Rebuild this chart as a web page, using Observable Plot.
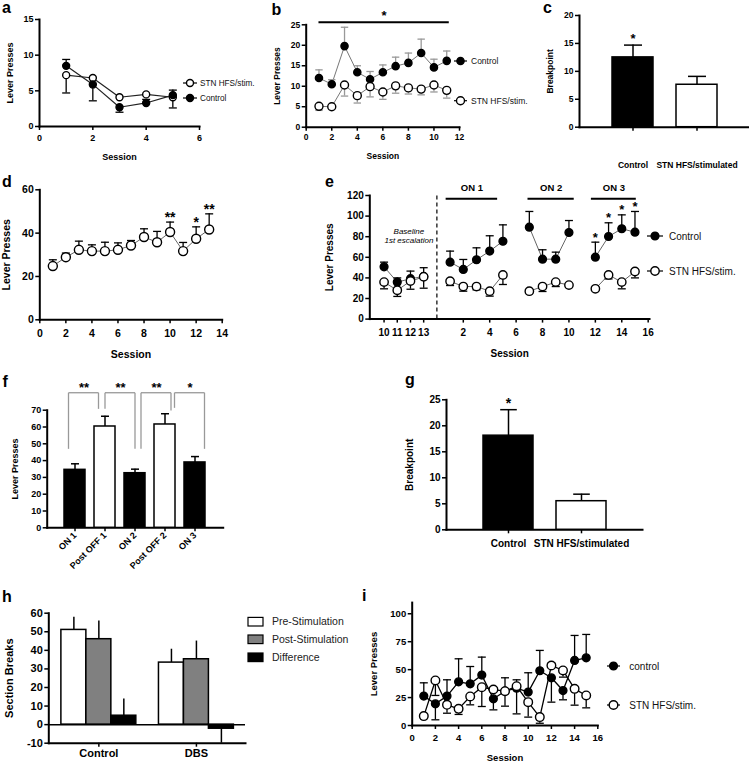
<!DOCTYPE html>
<html><head><meta charset="utf-8">
<script src="https://cdn.jsdelivr.net/npm/d3@7"></script>
<script src="https://cdn.jsdelivr.net/npm/@observablehq/plot@0.6"></script>
<style>
html,body{margin:0;padding:0;background:#fff;}
#root{position:relative;width:749px;height:763px;overflow:hidden;background:#fff;}
#root svg{position:absolute;max-width:none;}
</style></head><body><div id="root"></div>
<script>
// ================= DATA =================
// panel a
const aSeries = ["STN HFS/stim.", "Control"];
const aSessions = [1, 2, 3, 4, 5];
const aStim = [7.2, 6.8, 4.1, 4.5, 4.1];
const aStimErr = [4.7, null, null, null, 2.6];
const aCtrl = [8.5, 5.9, 2.7, 3.3, 4.4];
const aCtrlErr = [9.4, 3.6, 2.0, 3.8, 5.1];
const aXTicks = [0, 2, 4, 6];
const aYTicks = [0, 5, 10, 15];

// panel b
const bSeries = ["Control", "STN HFS/stim."];
const bSessions = [1, 2, 3, 4, 5, 6, 7, 8, 9, 10, 11];
const bCtrl = [12.0, 10.5, 19.8, 13.4, 11.7, 13.4, 14.9, 15.7, 18.1, 14.6, 16.2];
const bCtrlErr = [14.0, 11.6, 24.4, 15.0, 13.6, 15.2, 17.1, 18.1, 21.5, 16.6, 18.6];
const bStim = [5.1, 5.0, 10.3, 7.7, 9.9, 8.6, 10.1, 9.6, 9.3, 10.3, 9.0];
const bStimErr = [4.1, null, 7.6, 5.9, 7.4, 6.8, 8.3, 8.1, 7.9, 8.6, 7.1];
const bSig = [{x1: 1, x2: 11.2, y: 25.6, label: "*"}];
const bXTicks = [0, 2, 4, 6, 8, 10, 12];
const bYTicks = [0, 5, 10, 15, 20, 25];

// panel c
const cGroups = ["Control", "STN HFS/stimulated"];
const cValues = [12.5, 7.6];
const cErr = [14.7, 9.1];
const cStars = ["*", ""];
const cYTicks = [0, 5, 10, 15, 20];

// panel d
const dSessions = [1, 2, 3, 4, 5, 6, 7, 8, 9, 10, 11, 12, 13];
const dValues = [24.8, 28.9, 32.3, 31.7, 31.7, 32.3, 34.3, 38.2, 35.8, 40.5, 31.7, 37.4, 41.7];
const dErr = [27.7, 30.8, 36.3, 34.6, 35.8, 35.5, 36.6, 42.0, 40.8, 45.1, 35.7, 42.9, 48.9];
const dStars = [{x: 10, label: "**"}, {x: 12, label: "*"}, {x: 13, label: "**"}];
const dXTicks = [0, 2, 4, 6, 8, 10, 12, 14];
const dYTicks = [0, 20, 40, 60];

// panel e
const eSeries = ["Control", "STN HFS/stim."];
const ePhases = ["Baseline","Baseline","Baseline","Baseline","ON 1","ON 1","ON 1","ON 1","ON 1","ON 2","ON 2","ON 2","ON 2","ON 3","ON 3","ON 3","ON 3"];
const eSessions = [10, 11, 12, 13, 1, 2, 3, 4, 5, 7, 8, 9, 10, 12, 13, 14, 15];
const eCtrl = [50.8, 35.9, 39.2, 41.4, 55.3, 48.2, 57.6, 66.0, 75.6, 89.2, 58.2, 58.2, 84.1, 60.1, 80.2, 87.7, 84.4];
const eCtrlErr = [55.3, 40.0, 46.6, 49.9, 66.0, 57.9, 69.2, 80.9, 91.5, 104.5, 67.3, 65.0, 95.7, 74.7, 93.5, 101.2, 104.5];
const eStim = [35.9, 28.0, 36.9, 41.0, 36.8, 31.6, 31.6, 27.1, 42.9, 27.1, 31.6, 35.9, 33.0, 29.4, 42.9, 35.9, 46.2];
const eStimErr = [29.4, 22.0, 29.0, 30.0, 32.6, 27.1, 28.4, 22.3, 33.6, null, 26.8, 31.6, null, null, 39.0, 29.4, 40.0];
const eStarPhase = "ON 3";
const ePhaseBars = [{label: "ON 1", x1: 0.7, x2: 4.6}, {label: "ON 2", x1: 6.9, x2: 10.4}, {label: "ON 3", x1: 11.7, x2: 15.1}];
const ePhaseBarY = 116.9, ePhaseLabelY = 127.6;
const eNote = [{text: "Baseline", y: 85.4}, {text: "1st escalation", y: 76.4}];
const eNoteX = -2.12;
const eBaseTicks = [10, 11, 12, 13];
const eTicks = [2, 4, 6, 8, 10, 12, 14, 16];
const eYTicks = [0, 20, 40, 60, 80, 100, 120];
const E_BASE_SHIFT = 14; // baseline sessions are drawn left of the dashed divider

// panel f
const fConditions = ["ON 1", "Post OFF 1", "ON 2", "Post OFF 2", "ON 3"];
const fValues = [34.5, 60.3, 32.5, 61.5, 38.9];
const fErr = [38.1, 66.4, 34.9, 67.9, 42.4];
const fBrackets = [
  {from: "ON 1", to: "Post OFF 1", fromEnd: 47, toEnd: 70.8, top: 80.4, label: "**"},
  {from: "Post OFF 1", to: "ON 2", fromEnd: 70.8, toEnd: 47, top: 80.4, label: "**"},
  {from: "ON 2", to: "Post OFF 2", fromEnd: 47, toEnd: 69.8, top: 80.4, label: "**"},
  {from: "Post OFF 2", to: "ON 3", fromEnd: 71.4, toEnd: 47, top: 80.4, label: "*"}
];
const fYTicks = [0, 10, 20, 30, 40, 50, 60, 70];

// panel g
const gGroups = ["Control", "STN HFS/stimulated"];
const gValues = [18.1, 5.5];
const gErr = [23.1, 6.85];
const gStars = ["*", ""];
const gYTicks = [0, 5, 10, 15, 20, 25];

// panel h
const hGroups = ["Control", "DBS"];
const hSeries = ["Pre-Stimulation", "Post-Stimulation", "Difference"];
const hPre = [51.0, 33.4];
const hPost = [46.0, 35.2];
const hDiff = [4.8, -2.2];
const hPreErr = [57.8, 40.6];
const hPostErr = [55.8, 45.0];
const hDiffErr = [13.8, -10.0];
const hYTicks = [-10, 0, 10, 20, 30, 40, 50, 60];

// panel i
const iSeries = ["control", "STN HFS/stim."];
const iSessions = [1, 2, 3, 4, 5, 6, 7, 8, 9, 10, 11, 12, 13, 14, 15];
const iCtrl = [26.3, 19.4, 26.3, 39.1, 37.3, 45.1, 23.9, 30.7, 33.4, 29.9, 49.0, 42.7, 31.3, 58.2, 60.6];
const iCtrlErr = [38.2, 5.1, 40.9, 59.7, 52.8, 61.2, 14.0, 42.7, 40.9, 47.2, 67.2, 20.9, 23.0, 80.6, 81.5];
const iStim = [8.4, 40.3, 18.5, 14.9, 26.0, 34.3, 32.2, 30.7, 35.2, 20.9, 7.5, 53.7, 49.3, 32.8, 26.9];
const iStimErr = [null, 26.9, 11.0, 9.9, 18.5, 17.0, null, 17.3, 10.4, 7.5, 2.0, 55.8, 43.3, 18.2, 15.8];
const iXTicks = [0, 2, 4, 6, 8, 10, 12, 14, 16];
const iYTicks = [0, 25, 50, 75, 100];

// ================= HELPERS =================
const FONT = "'Liberation Sans', Arial, Helvetica, sans-serif";
const root = document.getElementById("root");
const intFmt = d => String(d);
function put(svg, left, top) { svg.style.position = "absolute"; svg.style.left = left + "px"; svg.style.top = top + "px"; root.appendChild(svg); }
const st = fs => ({fontFamily: FONT, fontSize: fs + "px", fontWeight: "bold", color: "#000", background: "none", overflow: "visible"});
const capSymbol = {draw(ctx, size) { const r = Math.sqrt(size / Math.PI); ctx.moveTo(-r, 0); ctx.lineTo(r, 0); }};
const rows = (xs, ys, es, extra = {}) => xs.map((x, i) => ({x, y: ys[i], e: es[i], ...Object.fromEntries(Object.entries(extra).map(([k, v]) => [k, v[i]]))}));
function seriesMarks(data, o) {
  const withErr = data.filter(d => d.e != null);
  return [
    Plot.line(data, {x: "x", y: "y", z: o.z, stroke: o.line, strokeWidth: o.lineWidth ?? 1}),
    Plot.ruleX(withErr, {x: "x", y1: "y", y2: "e", stroke: o.err, strokeWidth: 1.3}),
    Plot.dot(withErr, {x: "x", y: "e", symbol: capSymbol, r: o.cap, stroke: o.err, strokeWidth: 1.3}),
    Plot.dot(data, {x: "x", y: "y", r: o.r, fill: o.filled ? "#000" : "#fff", stroke: "#000", strokeWidth: 1.4})
  ];
}
const ax = o => Plot.axisX({tickSize: 4, tickPadding: 3, strokeWidth: 1.5, labelAnchor: "center", labelArrow: false, ...o});
const ay = o => Plot.axisY({tickSize: 4, tickPadding: 2, strokeWidth: 1.5, labelAnchor: "center", labelArrow: false, tickFormat: intFmt, ...o});
const axisLines = () => [Plot.frame({anchor: "left", strokeWidth: 2}), Plot.frame({anchor: "bottom", strokeWidth: 2})];

// ================= PANEL A =================
put(Plot.plot({
  width: 205, height: 160, marginLeft: 39, marginRight: 6, marginTop: 19, marginBottom: 34, style: st(9),
  x: {domain: [0, 6]}, y: {domain: [0, 15]},
  marks: [
    ...axisLines(),
    ax({ticks: aXTicks, tickFormat: intFmt, label: "Session", labelOffset: 33, tickPadding: 4}),
    ay({ticks: aYTicks, label: "Lever Presses", labelOffset: 33}),
    ...seriesMarks(rows(aSessions, aStim, aStimErr), {line: "#222", err: "#000", cap: 4, r: 3.5, filled: false, lineWidth: 1.2}),
    ...seriesMarks(rows(aSessions, aCtrl, aCtrlErr), {line: "#222", err: "#000", cap: 4, r: 3.5, filled: true, lineWidth: 1.2})
  ]
}), 0, 0);

// ================= PANEL B =================
put(Plot.plot({
  width: 200, height: 160, marginLeft: 40.7, marginRight: 6, marginTop: 24.3, marginBottom: 33.3, style: st(8.5),
  x: {domain: [0, 12]}, y: {domain: [0, 25]},
  marks: [
    ...axisLines(),
    ax({ticks: bXTicks, tickFormat: intFmt, label: "Session", labelOffset: 32}),
    ay({ticks: bYTicks, label: "Lever Presses", labelOffset: 32.7}),
    Plot.ruleY(bSig, {y: "y", x1: "x1", x2: "x2", strokeWidth: 2}),
    Plot.text(bSig, {x: d => (d.x1 + d.x2) / 2, y: "y", text: "label", fontSize: 13, dy: -7}),
    ...seriesMarks(rows(bSessions, bCtrl, bCtrlErr), {line: "#777", err: "#999", cap: 3.7, r: 3.6, filled: true}),
    ...seriesMarks(rows(bSessions, bStim, bStimErr), {line: "#777", err: "#999", cap: 3.7, r: 4, filled: false})
  ]
}), 265, 0);

// ================= PANEL C =================
const cRows = cGroups.map((g, i) => ({g, v: cValues[i], e: cErr[i], s: cStars[i]}));
put(Plot.plot({
  width: 209, height: 175, marginLeft: 39, marginRight: 0, marginTop: 15, marginBottom: 48.3, style: st(8.5),
  x: {type: "band", domain: cGroups, paddingInner: 0.36, paddingOuter: 0.5}, y: {domain: [0, 20]},
  color: {type: "identity"},
  marks: [
    ...axisLines(),
    ax({label: null, tickPadding: 31}),
    ay({ticks: cYTicks, label: "Breakpoint", labelOffset: 33}),
    Plot.ruleX(cRows, {x: "g", y1: "v", y2: "e", strokeWidth: 1.5}),
    Plot.dot(cRows, {x: "g", y: "e", symbol: capSymbol, r: 9, stroke: "#000", strokeWidth: 1.5}),
    Plot.barY(cRows, {x: "g", y: "v", fill: d => d.g === cGroups[0] ? "#000" : "#fff", stroke: "#000", strokeWidth: 1.5}),
    Plot.text(cRows, {x: "g", y: "e", text: "s", fontSize: 13, dy: -6.4})
  ]
}), 540, 0);

// ================= PANEL D =================
const dRows = rows(dSessions, dValues, dErr);
const dStarRows = dStars.map(s => ({...s, e: dErr[dSessions.indexOf(s.x)]}));
put(Plot.plot({
  width: 230, height: 200, marginLeft: 39.3, marginRight: 8.3, marginTop: 29.3, marginBottom: 40.7, style: st(10.5),
  x: {domain: [0, 14]}, y: {domain: [0, 60]},
  marks: [
    ...axisLines(),
    ax({ticks: dXTicks, tickFormat: intFmt, label: "Session", labelOffset: 37.7, tickPadding: 6}),
    ay({ticks: dYTicks, label: "Lever Presses", labelOffset: 37.3}),
    ...seriesMarks(dRows, {line: "#666", err: "#000", cap: 4, r: 4.5, filled: false}),
    Plot.text(dStarRows, {x: "x", y: "e", text: "label", fontSize: 14, dy: -4.7})
  ]
}), 0, 160);

// ================= PANEL E =================
const ePos = (s, p) => p === "Baseline" ? s - E_BASE_SHIFT : s;
const eX = eSessions.map((s, i) => ePos(s, ePhases[i]));
const eCtrlRows = rows(eX, eCtrl, eCtrlErr, {phase: ePhases});
const eStimRows = rows(eX, eStim, eStimErr, {phase: ePhases});
const eStarRows = eCtrlRows.filter(d => d.phase === eStarPhase);
put(Plot.plot({
  width: 335, height: 200, marginLeft: 49.3, marginRight: 6, marginTop: 35, marginBottom: 41.4, style: st(10),
  x: {domain: [-5.08, 16.1]}, y: {domain: [0, 120]},
  marks: [
    ...axisLines(),
    ax({ticks: [...eBaseTicks.map(s => s - E_BASE_SHIFT), ...eTicks], tickFormat: d => String(d < 0 ? d + E_BASE_SHIFT : d), label: "Session", labelOffset: 37.4, tickPadding: 6}),
    ay({ticks: eYTicks, label: "Lever Presses", labelOffset: 44}),
    Plot.ruleX([0], {y1: 0, y2: 120, strokeDasharray: "4,3", strokeWidth: 1.2}),
    Plot.ruleY(ePhaseBars, {x1: "x1", x2: "x2", y: () => ePhaseBarY, strokeWidth: 2}),
    Plot.text(ePhaseBars, {x: d => (d.x1 + d.x2) / 2, y: () => ePhaseLabelY, text: "label", fontSize: 9.5}),
    Plot.text(eNote, {x: () => eNoteX, y: "y", text: "text", fontSize: 8, fontStyle: "italic", fontWeight: "normal"}),
    ...seriesMarks(eCtrlRows, {z: "phase", line: "#666", err: "#000", cap: 4, r: 3.9, filled: true}),
    ...seriesMarks(eStimRows, {z: "phase", line: "#666", err: "#000", cap: 4, r: 4.2, filled: false}),
    Plot.text(eStarRows, {x: "x", y: "e", text: () => "*", fontSize: 13, dy: -4.8})
  ]
}), 320, 160);

// ================= PANEL F =================
const fRows = fConditions.map((c, i) => ({c, v: fValues[i], e: fErr[i]}));
const fPI = 0.29, fPO = 0.484, fFrame = 176;
const fStep = fFrame / (fConditions.length - fPI + 2 * fPO);
const fShift = [-6.5, 0, 6, 9.5];
const fBracketMarks = fBrackets.flatMap((b, i) => [
  Plot.link([b], {x1: "from", x2: "from", y1: "fromEnd", y2: "top", dx: fShift[i], stroke: "#999", strokeWidth: 1.3}),
  Plot.link([b], {x1: "to", x2: "to", y1: "toEnd", y2: "top", dx: fShift[i], stroke: "#999", strokeWidth: 1.3}),
  Plot.link([b], {x1: "from", x2: "to", y1: "top", y2: "top", dx: fShift[i], stroke: "#999", strokeWidth: 1.3}),
  Plot.text([b], {x: "from", y: "top", text: "label", fontSize: 13, dx: fShift[i] + fStep / 2, dy: -4.7})
]);
put(Plot.plot({
  width: 230, height: 250, marginLeft: 46.7, marginRight: 7.3, marginTop: 49.7, marginBottom: 82.7, style: st(9),
  x: {type: "band", domain: fConditions, paddingInner: fPI, paddingOuter: fPO}, y: {domain: [0, 70]},
  color: {type: "identity"},
  marks: [
    ...axisLines(),
    ax({label: null, tickRotate: -45, tickPadding: 2}),
    ay({ticks: fYTicks, label: "Lever Presses", labelOffset: 35.2}),
    Plot.ruleX(fRows, {x: "c", y1: "v", y2: "e", strokeWidth: 1.5}),
    Plot.dot(fRows, {x: "c", y: "e", symbol: capSymbol, r: 4, stroke: "#000", strokeWidth: 1.5}),
    Plot.barY(fRows, {x: "c", y: "v", fill: d => d.c.startsWith("ON") ? "#000" : "#fff", stroke: "#000", strokeWidth: 1.5}),
    ...fBracketMarks
  ]
}), 0, 360);

// ================= PANEL G =================
const gRows = gGroups.map((g, i) => ({g, v: gValues[i], e: gErr[i], s: gStars[i]}));
put(Plot.plot({
  width: 250, height: 180, marginLeft: 46, marginRight: 8, marginTop: 29.3, marginBottom: 20.7, style: st(10),
  x: {type: "band", domain: gGroups, paddingInner: 0.32, paddingOuter: 0.495}, y: {domain: [0, 25]},
  color: {type: "identity"},
  marks: [
    ...axisLines(),
    ax({label: null, tickPadding: 6}),
    ay({ticks: gYTicks, label: "Breakpoint", labelOffset: 41}),
    Plot.ruleX(gRows, {x: "g", y1: "v", y2: "e", strokeWidth: 1.5}),
    Plot.dot(gRows, {x: "g", y: "e", symbol: capSymbol, r: 8.3, stroke: "#000", strokeWidth: 1.5}),
    Plot.barY(gRows, {x: "g", y: "v", fill: d => d.g === gGroups[0] ? "#000" : "#fff", stroke: "#000", strokeWidth: 1.5}),
    Plot.text(gRows, {x: "g", y: "e", text: "s", fontSize: 14, dy: -6.5})
  ]
}), 400, 370);

// ================= PANEL H =================
const H_BAR = 0.256;
const hFills = ["#fff", "#808080", "#000"];
const hVals = [hPre, hPost, hDiff], hErrs = [hPreErr, hPostErr, hDiffErr];
const hRows = [];
hGroups.forEach((g, gi) => hSeries.forEach((s, si) => {
  const c = gi + (si - 1) * H_BAR;
  hRows.push({g, s, v: hVals[si][gi], e: hErrs[si][gi], x: c, x1: c - H_BAR / 2, x2: c + H_BAR / 2, fill: hFills[si]});
}));
put(Plot.plot({
  width: 250, height: 173, marginLeft: 48.3, marginRight: 5, marginTop: 22.7, marginBottom: 20.3, style: st(11),
  x: {domain: [-0.513, 1.503]}, y: {domain: [-10, 60]},
  color: {type: "identity"},
  marks: [
    ...axisLines(),
    ax({ticks: hGroups.map((g, i) => i), tickFormat: i => hGroups[i], label: null, tickPadding: 2}),
    ay({ticks: hYTicks, label: "Section Breaks", labelOffset: 43.8}),
    Plot.ruleX(hRows, {x: "x", y1: "v", y2: "e", strokeWidth: 1.5}),
    Plot.rectY(hRows, {x1: "x1", x2: "x2", y1: () => 0, y2: "v", fill: "fill", stroke: "#000", strokeWidth: 1.5}),
    Plot.ruleY([0], {strokeWidth: 1.5})
  ]
}), 0, 590);

// ================= PANEL I =================
put(Plot.plot({
  width: 245, height: 173, marginLeft: 51.7, marginRight: 7.7, marginTop: 12.1, marginBottom: 38, style: st(9.5),
  x: {domain: [0, 16]}, y: {domain: [0, 110]},
  marks: [
    ...axisLines(),
    ax({ticks: iXTicks, tickFormat: intFmt, label: "Session", labelOffset: 35, tickPadding: 5}),
    ay({ticks: iYTicks, label: "Lever Presses", labelOffset: 42}),
    ...seriesMarks(rows(iSessions, iCtrl, iCtrlErr), {line: "#000", err: "#000", cap: 4, r: 3.9, filled: true, lineWidth: 1.3}),
    ...seriesMarks(rows(iSessions, iStim, iStimErr), {line: "#000", err: "#000", cap: 4, r: 4.3, filled: false, lineWidth: 1.3})
  ]
}), 360, 590);

// ================= OVERLAY: panel letters & legends =================
const ov = d3.create("svg").attr("width", 749).attr("height", 763).attr("font-family", FONT)
  .style("position", "absolute").style("left", "0px").style("top", "0px").style("overflow", "visible");
[["a", 2, 13], ["b", 271.5, 15], ["c", 543, 13.3], ["d", 2, 186.5], ["e", 325, 186.5], ["f", 2.5, 386.5], ["g", 405, 385], ["h", 2, 601.5], ["i", 362, 601]]
  .forEach(([t, x, y]) => ov.append("text").attr("x", x).attr("y", y).attr("font-size", 16).attr("font-weight", "bold").text(t));
function legendItem(cx, cy, half, r, filled, label, tx, fs) {
  ov.append("line").attr("x1", cx - half).attr("x2", cx + half).attr("y1", cy).attr("y2", cy).attr("stroke", "#000").attr("stroke-width", 1.2);
  ov.append("circle").attr("cx", cx).attr("cy", cy).attr("r", r).attr("fill", filled ? "#000" : "#fff").attr("stroke", "#000").attr("stroke-width", 1.4);
  ov.append("text").attr("x", tx).attr("y", cy).attr("dy", "0.35em").attr("font-size", fs).attr("fill", "#111").text(label);
}
legendItem(190, 83, 7, 3.5, false, aSeries[0], 200, 8.2);
legendItem(190, 98, 7, 3.5, true, aSeries[1], 200, 8.2);
legendItem(460.5, 61, 6.5, 3.6, true, bSeries[0], 471, 8.5);
legendItem(460.5, 100.7, 6.5, 4, false, bSeries[1], 471, 8.5);
legendItem(655, 236, 8, 3.9, true, eSeries[0], 669, 10);
legendItem(655, 271, 8, 4.2, false, eSeries[1], 669, 10);
legendItem(613.5, 666, 6.5, 3.9, true, iSeries[0], 629.3, 10);
legendItem(613.5, 705, 6.5, 4.3, false, iSeries[1], 629.3, 10);
hSeries.forEach((s, i) => {
  const cy = [621.7, 639.3, 657.3][i];
  ov.append("rect").attr("x", 248).attr("y", cy - 4.3).attr("width", 15).attr("height", 8.6).attr("fill", hFills[i]).attr("stroke", "#000").attr("stroke-width", 1.2);
  ov.append("text").attr("x", 272).attr("y", cy).attr("dy", "0.35em").attr("font-size", 10.5).attr("fill", "#222").text(s);
});
root.appendChild(ov.node());
</script></body></html>
